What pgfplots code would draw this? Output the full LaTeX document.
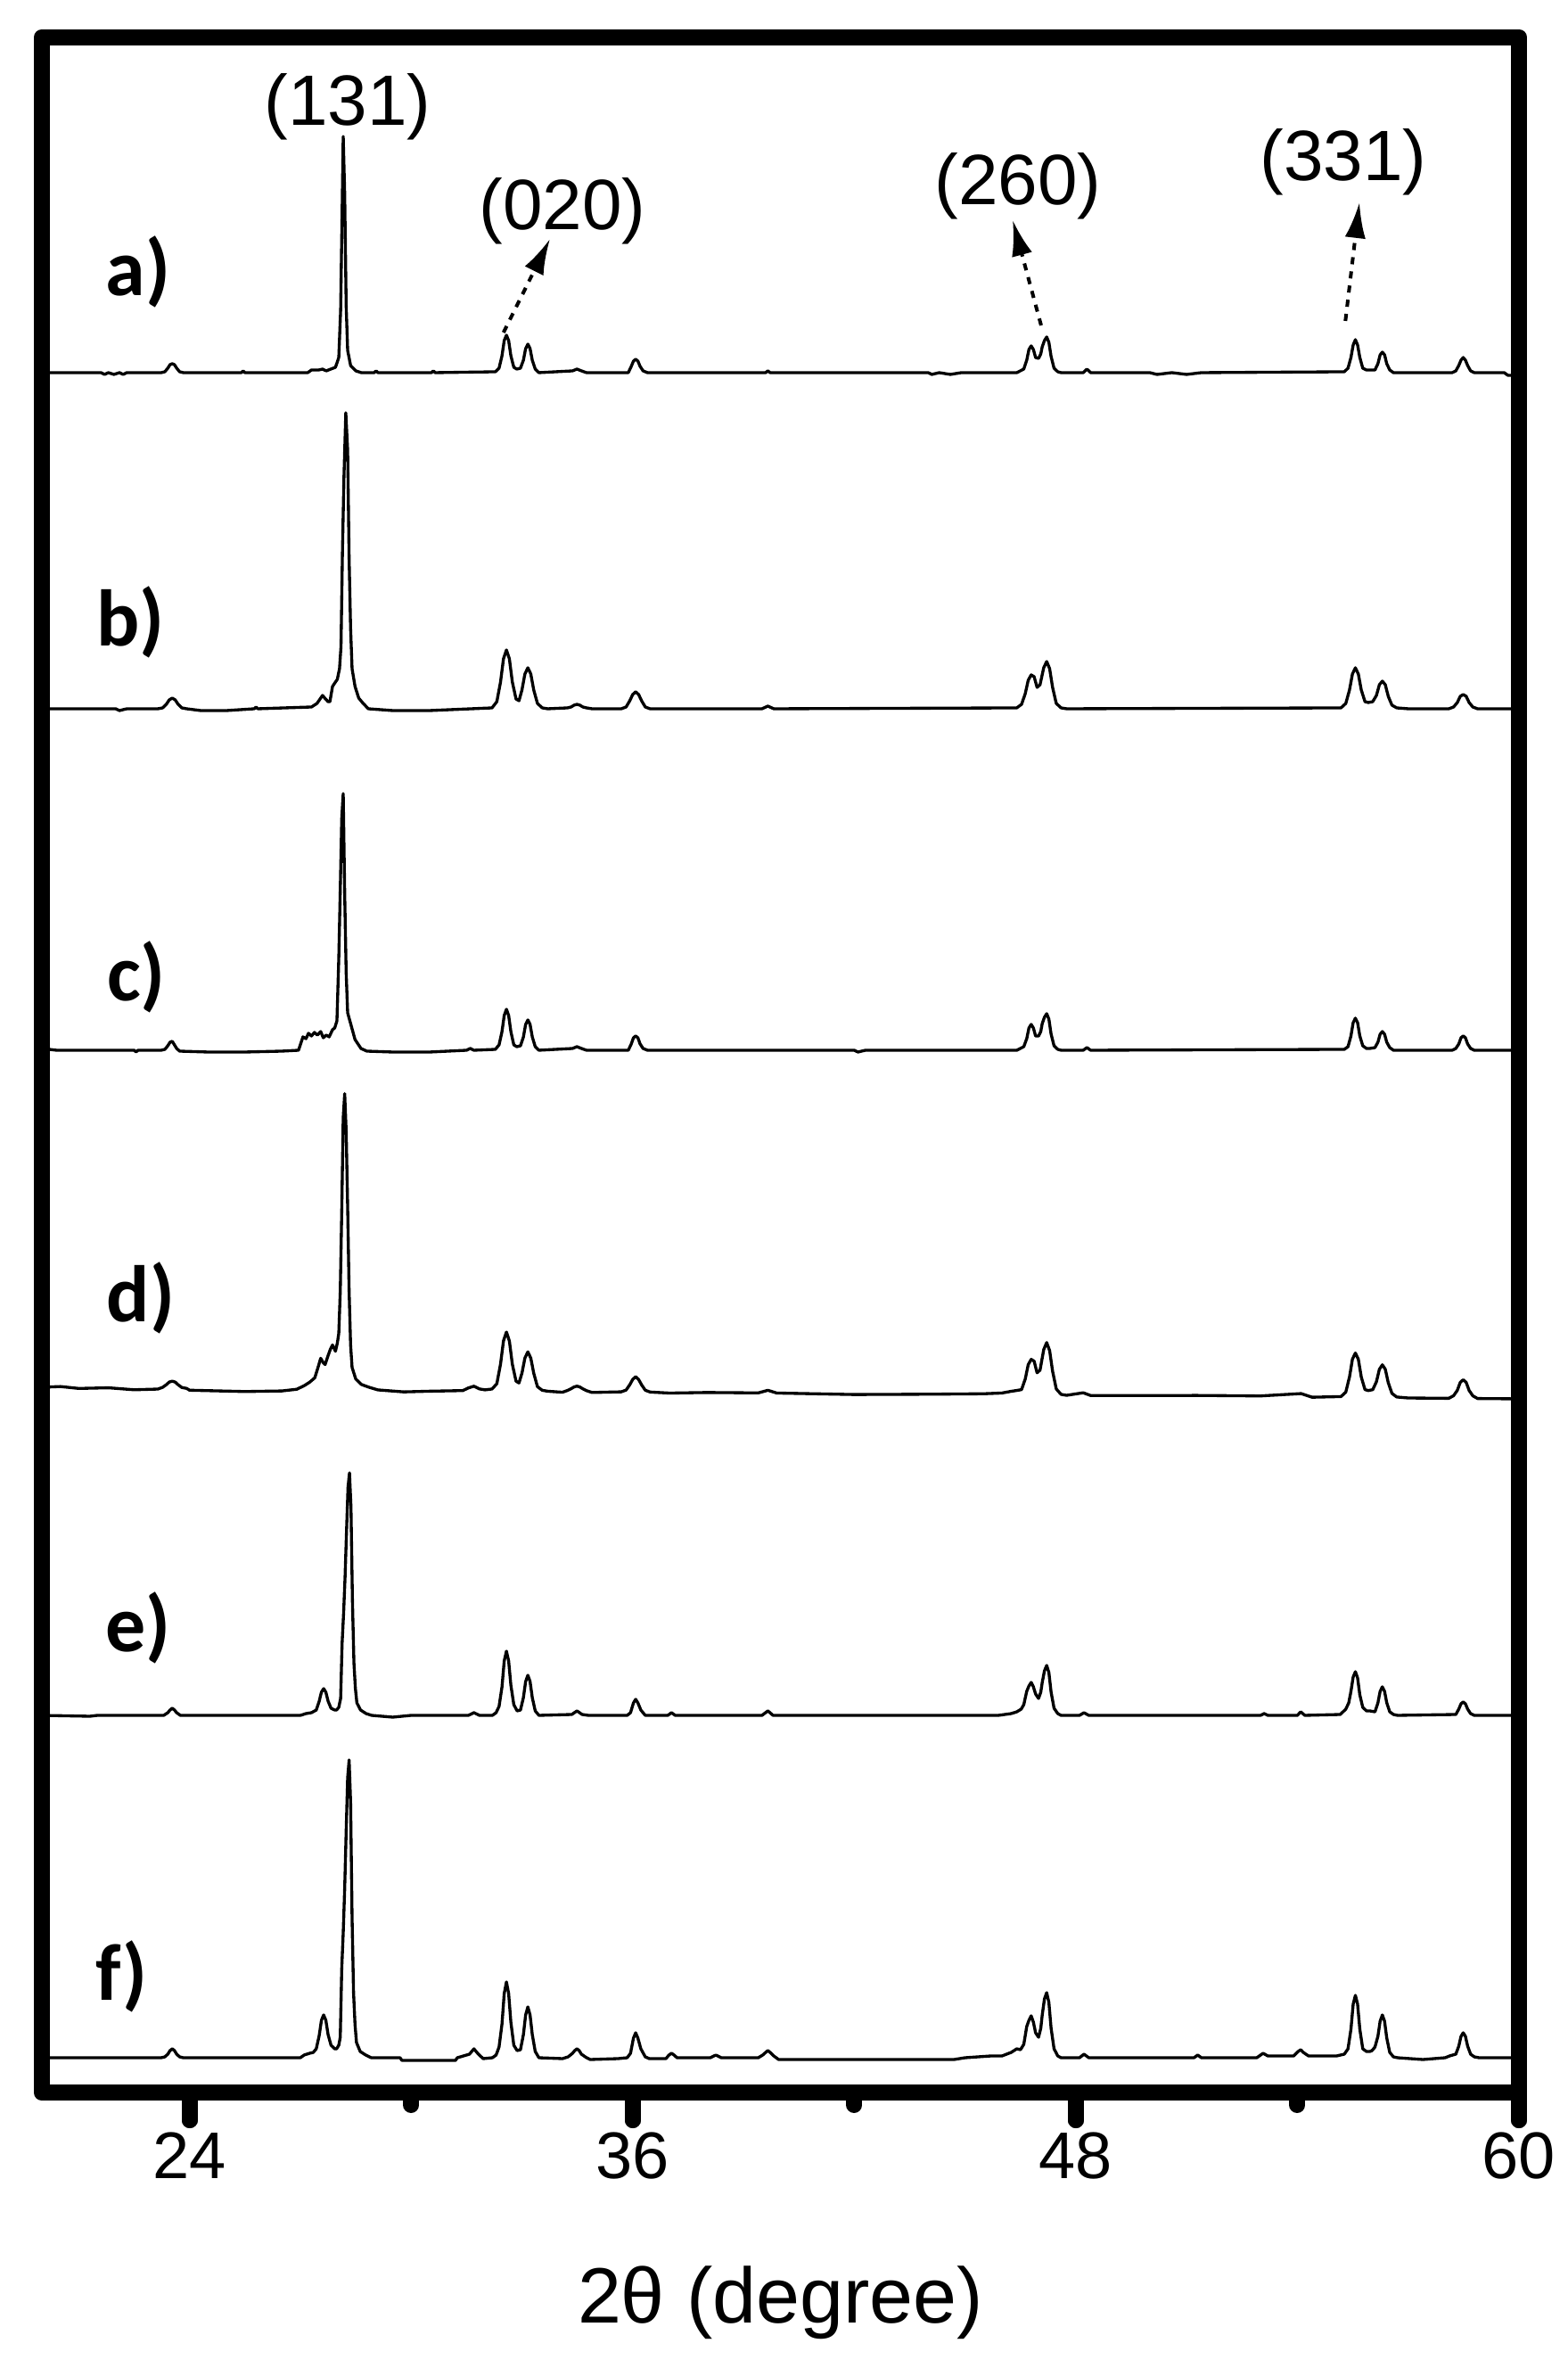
\documentclass[border=0pt]{standalone}
\usepackage{fontspec}
\setmainfont{Liberation Sans}
\newfontfamily\labfont{Carlito}
\usepackage{pgfplots}
\usepackage{pgfplotstable}
\pgfplotsset{compat=1.18}
\usetikzlibrary{arrows.meta}

% heights above each trace's own baseline (units: reference pixels)
\pgfplotstableread{
x y
20.00 0
21.60 0
21.70 -2
21.80 0
21.95 -2
22.10 0
22.20 -2
22.30 0
23.23 0
23.33 1
23.41 5
23.47 9
23.53 10
23.59 9
23.65 5
23.73 1
23.83 0
25.40 0
25.45 2
25.50 0
27.20 0
27.30 3
27.50 3
27.60 4
27.70 2
27.95 6
28.04 17
28.09 70
28.13 180
28.16 265
28.20 200
28.24 75
28.28 25
28.36 8
28.50 2
28.65 0
29.00 0
29.05 2
29.10 0
30.55 0
30.60 2
30.65 0
32.28 1
32.38 5
32.46 19
32.52 36
32.58 42
32.64 36
32.70 19
32.78 6
32.86 4
32.96 5
33.04 14
33.10 27
33.16 32
33.22 27
33.28 14
33.36 4
33.46 0
34.37 2
34.49 4
34.61 2
34.75 0
35.88 0
35.96 7
36.02 13
36.08 15
36.14 13
36.20 7
36.28 2
36.40 0
39.60 0
39.66 2
39.72 0
44.00 0
44.10 -2
44.30 0
44.60 -2
44.90 0
46.40 0
46.59 4
46.67 14
46.73 26
46.79 30
46.85 26
46.91 17
46.99 16
47.05 21
47.09 29
47.15 36
47.21 40
47.27 34
47.33 18
47.41 5
47.51 1
47.60 0
48.20 0
48.30 4
48.40 0
50.00 0
50.20 -2
50.60 0
51.00 -2
51.40 0
55.27 1
55.37 5
55.45 17
55.51 31
55.57 37
55.63 31
55.69 17
55.77 5
55.87 3
55.96 3
56.10 3
56.18 10
56.24 20
56.30 23
56.36 20
56.42 10
56.50 3
56.60 0
58.19 0
58.29 2
58.37 8
58.43 14
58.49 17
58.55 14
58.61 8
58.69 2
58.79 0
59.60 0
59.70 -3
60.00 -3
}\tabA

\pgfplotstableread{
x y
20.00 0
22.00 0
22.10 -2
22.30 0
23.14 0
23.27 1
23.37 5
23.45 10
23.53 12
23.61 10
23.69 5
23.79 1
23.92 0
24.30 -2
25.00 -2
25.75 0
25.80 2
25.85 0
27.30 2
27.45 6
27.55 12
27.60 15
27.66 12
27.75 8
27.80 8
27.87 25
27.95 30
28.00 33
28.06 45
28.10 70
28.14 178
28.18 260
28.23 332
28.28 290
28.32 168
28.36 90
28.40 45
28.48 25
28.58 12
28.68 7
28.84 0
29.50 -2
30.50 -2
32.19 1
32.32 8
32.42 30
32.50 56
32.58 66
32.66 56
32.74 30
32.84 11
32.92 9
33.00 21
33.08 39
33.16 46
33.24 39
33.32 21
33.42 6
33.55 1
33.70 0
34.23 1
34.33 2
34.41 4
34.49 5
34.57 4
34.65 2
34.75 1
34.90 0
35.69 0
35.82 2
35.92 9
36.00 16
36.08 19
36.16 16
36.24 9
36.34 2
36.47 0
39.50 0
39.66 3
39.82 0
46.40 1
46.53 5
46.63 17
46.71 32
46.79 38
46.87 36
46.95 24
47.03 27
47.13 46
47.21 53
47.29 45
47.37 24
47.47 6
47.60 1
47.75 0
55.18 1
55.31 6
55.41 21
55.49 39
55.57 46
55.65 39
55.73 21
55.83 8
55.92 7
56.04 8
56.14 15
56.22 27
56.30 31
56.38 27
56.46 14
56.56 4
56.69 1
57.00 0
58.10 0
58.23 2
58.33 7
58.41 14
58.49 16
58.57 14
58.65 7
58.75 2
58.88 0
60.00 0
}\tabB

\pgfplotstableread{
x y
20.00 0
20.20 1
20.40 0
22.50 0
22.55 -2
22.60 0
23.23 0
23.33 1
23.41 5
23.47 9
23.53 10
23.59 6
23.65 2
23.73 -1
24.50 -2
25.50 -2
26.50 -1
26.95 0
27.07 15
27.15 13
27.22 19
27.30 16
27.38 20
27.46 17
27.55 21
27.62 14
27.70 17
27.78 15
27.87 23
27.93 25
27.99 33
28.04 103
28.08 180
28.12 260
28.16 288
28.20 175
28.24 87
28.28 42
28.36 30
28.48 12
28.64 2
28.80 -1
29.50 -2
30.50 -2
31.50 0
31.60 2
31.70 0
32.28 1
32.38 6
32.46 21
32.52 39
32.58 46
32.64 39
32.70 21
32.78 6
32.86 4
32.96 5
33.04 15
33.10 29
33.16 34
33.22 29
33.28 15
33.36 4
33.46 0
34.37 2
34.49 4
34.61 2
34.75 0
35.88 0
35.96 7
36.02 14
36.08 16
36.14 14
36.20 7
36.28 2
36.40 0
42.00 0
42.10 -2
42.30 0
46.40 0
46.59 4
46.67 13
46.73 25
46.79 29
46.85 25
46.91 16
46.99 16
47.05 21
47.09 30
47.15 37
47.21 41
47.27 35
47.33 18
47.41 5
47.51 1
47.60 0
48.20 0
48.30 3
48.40 0
55.27 1
55.37 4
55.45 16
55.51 31
55.57 36
55.63 31
55.69 16
55.77 5
55.87 2
55.96 2
56.10 3
56.18 9
56.24 18
56.30 21
56.36 18
56.42 9
56.50 3
56.60 0
58.19 0
58.29 2
58.37 7
58.43 14
58.49 16
58.55 14
58.61 7
58.69 2
58.79 0
60.00 0
}\tabC

\pgfplotstableread{
x y
20.00 0
20.50 1
21.00 -1
21.80 0
22.50 -2
23.14 -1
23.27 1
23.37 4
23.45 7
23.53 8
23.61 7
23.69 4
23.79 1
23.92 0
24.00 -2
25.50 -3
26.50 -2
26.90 0
27.10 4
27.25 8
27.39 13
27.48 25
27.55 35
27.62 30
27.67 28
27.75 38
27.81 45
27.87 50
27.95 43
28.00 52
28.04 63
28.08 110
28.12 200
28.16 305
28.20 332
28.24 290
28.28 205
28.32 110
28.36 50
28.40 25
28.50 12
28.65 6
28.85 3
29.10 0
29.80 -2
30.50 -1
31.40 0
31.55 3
31.70 5
31.85 2
32.00 1
32.19 2
32.32 8
32.42 30
32.50 56
32.58 66
32.66 56
32.74 30
32.84 11
32.92 9
33.00 20
33.08 37
33.16 44
33.24 37
33.32 20
33.42 5
33.55 1
33.70 0
34.10 -1
34.23 1
34.33 3
34.41 5
34.49 6
34.57 5
34.65 3
34.75 1
34.90 -1
35.69 0
35.82 2
35.92 8
36.00 14
36.08 17
36.16 14
36.24 8
36.34 2
36.47 0
37.00 -1
38.00 0
39.40 0
39.66 3
39.90 0
42.00 -1
44.00 0
45.50 1
46.00 2
46.25 4
46.40 5
46.53 6
46.63 18
46.71 34
46.79 40
46.87 38
46.95 25
47.03 28
47.13 51
47.21 59
47.29 50
47.37 27
47.47 7
47.60 1
47.75 0
48.20 3
48.40 0
51.30 1
53.00 1
54.10 4
54.40 0
55.18 1
55.31 6
55.41 23
55.49 43
55.57 50
55.65 43
55.73 23
55.83 9
55.92 8
56.04 9
56.14 18
56.22 32
56.30 37
56.38 32
56.46 17
56.56 5
56.69 1
57.00 0
58.10 0
58.23 3
58.33 9
58.41 18
58.49 21
58.57 18
58.65 9
58.75 3
58.88 0
60.00 0
}\tabD

\pgfplotstableread{
x y
20.00 0
21.30 -1
21.50 0
23.30 0
23.41 3
23.47 6
23.53 8
23.59 6
23.65 3
23.75 0
27.00 0
27.15 2
27.30 3
27.43 6
27.51 16
27.57 26
27.63 30
27.69 26
27.75 16
27.83 8
27.93 6
27.98 6
28.04 9
28.09 19
28.13 81
28.17 114
28.21 155
28.25 207
28.29 256
28.33 272
28.37 234
28.41 128
28.45 59
28.49 30
28.53 14
28.63 6
28.78 2
28.93 0
29.50 -2
30.00 0
31.55 0
31.70 3
31.85 0
32.20 0
32.30 3
32.38 10
32.46 32
32.52 61
32.58 72
32.64 61
32.70 34
32.78 12
32.87 5
32.96 6
33.04 20
33.10 38
33.16 45
33.22 38
33.28 20
33.36 5
33.46 0
34.35 1
34.49 5
34.63 1
34.80 0
35.85 0
35.94 3
36.02 14
36.08 18
36.14 14
36.22 6
36.34 0
36.95 0
37.05 3
37.15 0
39.50 0
39.66 5
39.80 0
45.90 0
46.25 2
46.40 4
46.52 7
46.59 12
46.67 27
46.73 33
46.79 37
46.85 32
46.91 24
46.99 19
47.05 26
47.09 37
47.15 50
47.21 56
47.27 48
47.33 26
47.41 8
47.51 2
47.60 0
48.10 0
48.22 3
48.35 0
53.00 0
53.10 2
53.20 0
54.00 0
54.09 4
54.20 0
55.16 1
55.31 7
55.39 14
55.45 27
55.51 43
55.57 49
55.63 42
55.69 23
55.77 9
55.87 5
55.96 5
56.10 4
56.18 14
56.24 27
56.30 32
56.36 27
56.42 14
56.50 4
56.60 1
56.71 0
58.29 1
58.37 7
58.43 13
58.49 15
58.55 13
58.61 7
58.69 2
58.79 0
60.00 0
}\tabE

\pgfplotstableread{
x y
20.00 0
23.23 0
23.33 1
23.41 4
23.47 8
23.53 10
23.59 8
23.65 4
23.73 1
23.83 0
27.00 0
27.10 3
27.25 5
27.35 6
27.43 10
27.51 25
27.57 42
27.63 48
27.69 42
27.75 26
27.83 14
27.93 10
27.98 10
28.04 14
28.08 23
28.12 100
28.16 140
28.20 190
28.24 254
28.28 314
28.32 334
28.36 287
28.40 157
28.44 73
28.48 37
28.52 17
28.62 7
28.77 3
28.92 0
29.70 0
29.75 -3
31.20 -3
31.25 0
31.58 4
31.70 10
31.82 4
31.95 -1
32.20 0
32.30 3
32.38 12
32.46 38
32.52 72
32.58 85
32.64 72
32.70 40
32.78 14
32.87 8
32.96 9
33.04 26
33.10 48
33.16 57
33.22 48
33.28 26
33.36 7
33.46 0
34.10 -1
34.25 1
34.37 5
34.43 8
34.49 10
34.55 8
34.61 4
34.75 0
34.85 -2
35.60 -1
35.85 0
35.94 5
36.02 22
36.08 28
36.14 22
36.22 10
36.34 1
36.45 -1
36.90 -1
36.98 3
37.05 5
37.12 3
37.20 0
38.10 0
38.25 3
38.40 0
39.40 0
39.52 3
39.60 6
39.66 8
39.72 6
39.82 2
39.95 -2
44.70 -2
45.00 0
45.70 2
46.00 2
46.25 6
46.40 10
46.50 9
46.59 15
46.67 35
46.73 42
46.79 47
46.85 40
46.91 28
46.99 23
47.05 33
47.09 48
47.15 66
47.21 73
47.27 62
47.33 33
47.41 10
47.51 2
47.60 0
48.10 0
48.22 4
48.35 0
51.20 0
51.30 3
51.40 0
52.90 0
53.07 5
53.20 2
53.90 2
54.02 7
54.09 9
54.16 6
54.30 2
55.06 2
55.27 4
55.37 10
55.45 32
55.51 60
55.57 70
55.63 60
55.69 32
55.77 10
55.87 7
55.96 7
56.02 8
56.10 12
56.18 24
56.24 41
56.30 48
56.36 41
56.42 22
56.50 6
56.60 1
56.71 0
57.40 -2
58.00 0
58.12 2
58.29 4
58.37 13
58.43 24
58.49 28
58.55 24
58.61 13
58.69 4
58.79 1
58.92 0
60.00 0
}\tabF

\begin{document}
\begin{tikzpicture}[
    trace/.style={black, solid, line width=0.5pt, line join=round, mark=none},
    lab/.style={anchor=base, inner sep=0pt,
        font=\labfont\bfseries\fontsize{13.5}{15}\selectfont},
    refl/.style={inner sep=0pt, font=\fontsize{12}{14}\selectfont},
    arr/.style={black, line width=0.6pt, dash pattern=on 1.2pt off 1.2pt,
        -{Latex[length=6pt, width=3.5pt]}},
    bigtick/.style={black, line width=2.7pt, line cap=round},
]
\useasboundingbox (-7.05pt,-46.35pt) rectangle (256.8pt,352.05pt);
\begin{axis}[
    scale only axis,
    width=248.55pt,
    height=345.75pt,
    xmin=20, xmax=60,
    ymin=0, ymax=2305,
    xtick={24,36,48,60},
    minor xtick={30,42,54},
    ytick=\empty,
    xtick pos=bottom,
    tick align=outside,
    major tick length=4.65pt,
    minor tick length=2.1pt,
    tick style={line width=2.7pt, line cap=round, black},
    axis line style={line width=2.8pt, line join=round},
    /pgf/number format/assume math mode=true,
    ticklabel style={font=\fontsize{11.1}{13}\selectfont},
    xticklabel style={anchor=base, yshift=-9.75pt},
    xlabel={2θ (degree)},
    xlabel style={at={(axis description cs:0.5,0)}, anchor=base,
        yshift=-38.7pt, font=\fontsize{13.2}{15}\selectfont},
    clip=false,
]
\addplot[trace] table[x=x, y expr=\thisrow{y}+1929] {\tabA};
\addplot[trace] table[x=x, y expr=\thisrow{y}+1552] {\tabB};
\addplot[trace] table[x=x, y expr=\thisrow{y}+1169] {\tabC};
\addplot[trace] table[x=x, y expr=\thisrow{y}+791-0.325*(\thisrow{x}-20)] {\tabD};
\addplot[trace] table[x=x, y expr=\thisrow{y}+423] {\tabE};
\addplot[trace] table[x=x, y expr=\thisrow{y}+39] {\tabF};

% long tick marks under the labelled positions
\draw[bigtick] (axis cs:24,0) -- ([yshift=-4.65pt]axis cs:24,0);
\draw[bigtick] (axis cs:36,0) -- ([yshift=-4.65pt]axis cs:36,0);
\draw[bigtick] (axis cs:48,0) -- ([yshift=-4.65pt]axis cs:48,0);
\draw[bigtick] (axis cs:60,0) -- ([yshift=-4.65pt]axis cs:60,0);

% trace labels
\node[lab] at (axis cs:22.61,2015) {a)};
\node[lab] at (axis cs:22.41,1622) {b)};
\node[lab] at (axis cs:22.56,1224) {c)};
\node[lab] at (axis cs:22.68,864) {d)};
\node[lab] at (axis cs:22.61,494) {e)};
\node[lab] at (axis cs:22.17,104) {f)};

% reflections
\node[refl] at (axis cs:28.28,2227) {(131)};
\node[refl] at (axis cs:34.10,2110) {(020)};
\node[refl] at (axis cs:46.43,2138) {(260)};
\node[refl] at (axis cs:55.24,2165) {(331)};

\draw[arr] (axis cs:32.50,1974) -- (axis cs:33.76,2079);
\draw[arr] (axis cs:47.06,1982) -- (axis cs:46.29,2100);
\draw[arr] (axis cs:55.30,1987) -- (axis cs:55.68,2120);
\end{axis}
\end{tikzpicture}
\end{document}
